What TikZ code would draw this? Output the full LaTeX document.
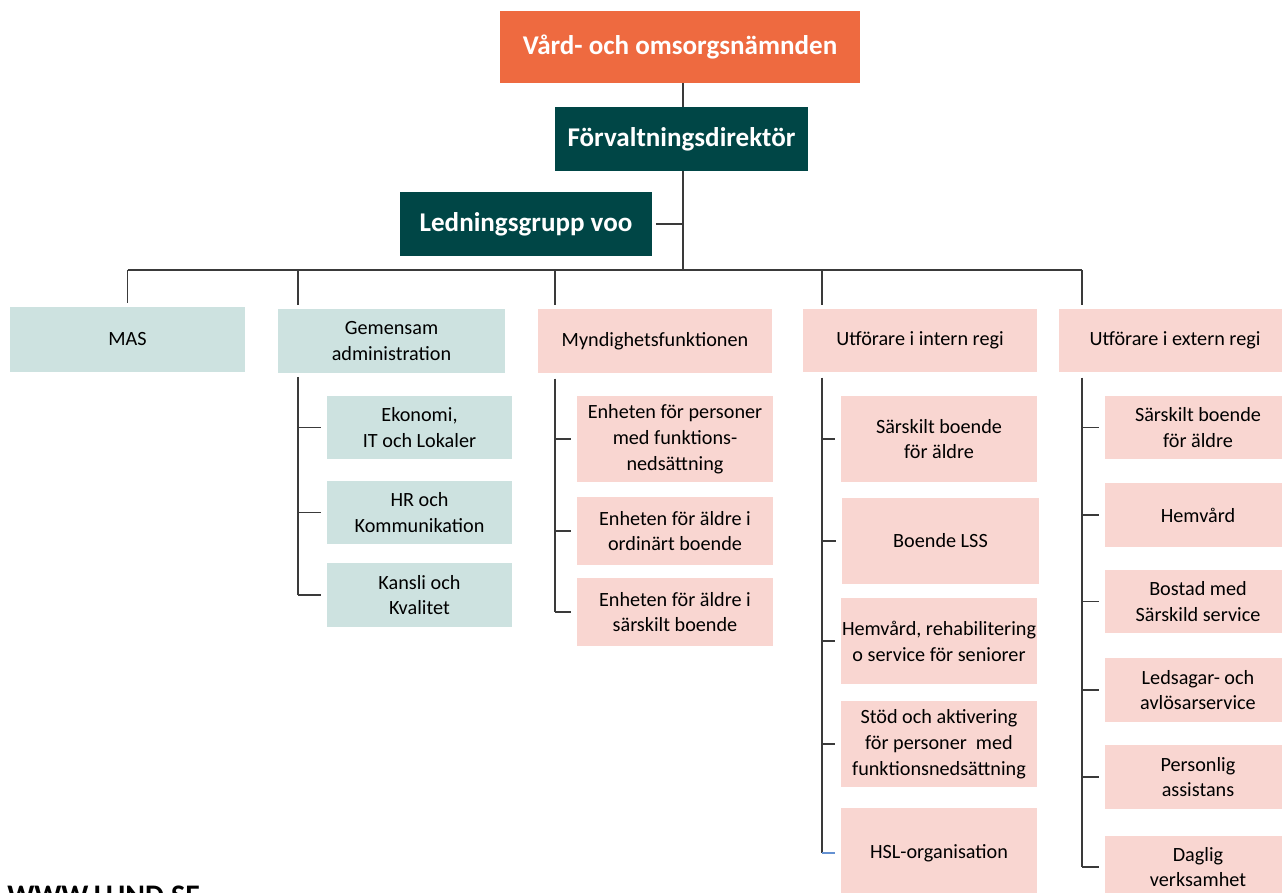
\documentclass[tikz,border=0pt]{standalone}
\usepackage{fontspec}
\setmainfont{Carlito}
\usepackage{tikz}
\usetikzlibrary{positioning}
\definecolor{morange}{RGB}{238, 106, 64}
\definecolor{mteal}{RGB}{0, 70, 70}
\definecolor{lteal}{RGB}{205, 226, 224}
\definecolor{lpink}{RGB}{249, 214, 209}
\definecolor{mline}{RGB}{58, 58, 58}
\definecolor{mblue}{RGB}{100, 145, 210}
\tikzset{top/.style = {inner sep = 0, align = center, text = white,
                       font = \fontsize{15.4}{18}\selectfont\bfseries}}
\tikzset{unit/.style = {inner sep = 0, align = center,
                        font = \fontsize{11.5}{14.7}\selectfont}}
\tikzset{adm/.style = {unit, fill = lteal}}
\tikzset{ops/.style = {unit, fill = lpink}}
\tikzset{link/.style = {draw = mline, line width = 1pt}}

\begin{document}
\begin{tikzpicture}[x = 0.02cm, y = -0.02cm]
      \useasboundingbox (0, 0) rectangle (1282, 893);

      \node [top, fill = morange, minimum width = 7.2cm, minimum height = 1.44cm] (nam) at (680, 47) {Vård- och omsorgsnämnden};
      \node [top, fill = mteal, minimum width = 5.06cm, minimum height = 1.28cm] (dir) at (681.5, 139) {Förvaltningsdirektör};
      \node [top, fill = mteal, minimum width = 5.04cm, minimum height = 1.28cm] (led) at (526, 224) {Ledningsgrupp voo};

      \node [adm, minimum width = 4.7cm, minimum height = 1.3cm] (mas) at (127.5, 339.5) {MAS};
      \node [adm, minimum width = 4.54cm, minimum height = 1.28cm] (gem) at (391.5, 341) {Gemensam\\administration};
      \node [ops, minimum width = 4.68cm, minimum height = 1.28cm] (myn) at (655, 341) {Myndighetsfunktionen};
      \node [ops, minimum width = 4.68cm, minimum height = 1.26cm] (int) at (920, 340.5) {Utförare i intern regi};
      \node [ops, minimum width = 4.64cm, minimum height = 1.26cm] (ext) at (1175, 340.5) {Utförare i extern regi};

      \node [adm, minimum width = 3.7cm, minimum height = 1.26cm] (eko) at (419.5, 427.5) {Ekonomi,\\IT och Lokaler};
      \node [adm, minimum width = 3.7cm, minimum height = 1.26cm] (hr) at (419.5, 512.5) {HR och\\Kommunikation};
      \node [adm, minimum width = 3.7cm, minimum height = 1.28cm] (kan) at (419.5, 595) {Kansli och\\Kvalitet};

      \node [ops, minimum width = 3.92cm, minimum height = 1.72cm] (mfu) at (675, 439) {Enheten för personer\\med funktions-\\nedsättning};
      \node [ops, minimum width = 3.92cm, minimum height = 1.36cm] (mor) at (675, 531) {Enheten för äldre i\\ordinärt boende};
      \node [ops, minimum width = 3.92cm, minimum height = 1.36cm] (msb) at (675, 612) {Enheten för äldre i\\särskilt boende};

      \node [ops, minimum width = 3.92cm, minimum height = 1.72cm] (isb) at (939, 439) {Särskilt boende\\för äldre};
      \node [ops, minimum width = 3.94cm, minimum height = 1.72cm] (ilss) at (940.5, 541) {Boende LSS};
      \node [ops, minimum width = 3.92cm, minimum height = 1.72cm] (ihem) at (939, 641) {Hemvård, rehabilitering\\o service för seniorer};
      \node [ops, minimum width = 3.92cm, minimum height = 1.72cm] (istod) at (939, 744) {Stöd och aktivering\\för personer~ med\\funktionsnedsättning};
      \node [ops, minimum width = 3.92cm, minimum height = 1.8cm] (ihsl) at (939, 853) {HSL-organisation};

      \node [ops, minimum width = 3.72cm, minimum height = 1.26cm] (esb) at (1198, 427.5) {Särskilt boende\\för äldre};
      \node [ops, minimum width = 3.72cm, minimum height = 1.28cm] (ehem) at (1198, 515) {Hemvård};
      \node [ops, minimum width = 3.72cm, minimum height = 1.26cm] (ebos) at (1198, 601.5) {Bostad med\\Särskild service};
      \node [ops, minimum width = 3.72cm, minimum height = 1.28cm] (eled) at (1198, 690) {Ledsagar- och\\avlösarservice};
      \node [ops, minimum width = 3.72cm, minimum height = 1.28cm] (eper) at (1198, 777) {Personlig\\assistans};
      \node [ops, minimum width = 3.72cm, minimum height = 1.24cm] (edag) at (1198, 867) {Daglig\\verksamhet};

      \node [anchor = base west, inner sep = 0, font = \fontsize{17}{20}\selectfont\bfseries] (web) at (7, 905) {WWW.LUND.SE};

      \coordinate (bus) at (683, 270);
      \coordinate (gemsp) at (298, 270);
      \coordinate (mynsp) at (555, 270);
      \coordinate (intsp) at (822, 270);
      \coordinate (extsp) at (1082, 270);

      \draw [link] (nam.south -| bus) -- (dir.north -| bus) (dir.south -| bus) -- (bus);
      \draw [link] ([xshift = 2pt]led.east) -- (led.east -| bus);
      \draw [link] (bus -| mas.north) -- (extsp);

      \draw [link] (bus -| mas.north) -- ([yshift = 2pt]mas.north);
      \foreach \sp/\b in {gemsp/gem, mynsp/myn, intsp/int, extsp/ext}
        \draw [link] (\sp) -- ([yshift = 2pt]\sp |- \b.north);

      \draw [link] ([yshift = -2pt]gemsp |- gem.south) -- (gemsp |- kan.west);
      \foreach \b in {eko, hr, kan}
        \draw [link] (gemsp |- \b.west) -- ([xshift = -3pt]\b.west);

      \draw [link] ([yshift = -3pt]mynsp |- myn.south) -- (mynsp |- msb.west);
      \foreach \b in {mfu, mor, msb}
        \draw [link] (mynsp |- \b.west) -- ([xshift = -3pt]\b.west);

      \draw [link] ([yshift = -3pt]intsp |- int.south) -- (intsp |- ihsl.west);
      \foreach \b in {isb, ilss, ihem, istod}
        \draw [link] (intsp |- \b.west) -- ([xshift = -3pt]\b.west);
      \draw [mblue, line width = 0.6pt] (intsp |- ihsl.west) -- ([xshift = -3pt]ihsl.west);

      \draw [link] ([yshift = -3pt]extsp |- ext.south) -- (extsp |- edag.west);
      \foreach \b in {esb, ehem, ebos, eled, eper, edag}
        \draw [link] (extsp |- \b.west) -- ([xshift = -3pt]\b.west);
    \end{tikzpicture}
\end{document}
